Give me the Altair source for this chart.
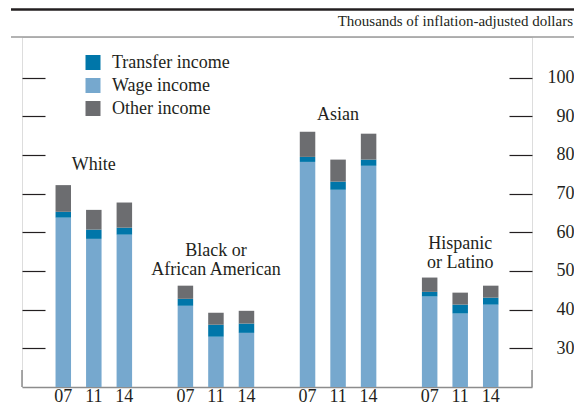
import altair as alt
import pandas as pd

# ---- data ----
groups = ["White", "Black or African American", "Asian", "Hispanic or Latino"]
group_text = ["White", "Black or\nAfrican American", "Asian", "Hispanic\nor Latino"]
label_level = [77.5, 55.2, 90.4, 57.1]   # level of the first line of each group label
years = ["07", "11", "14"]
wage = [63.8, 58.3, 59.4, 41.0, 33.0, 34.0, 78.2, 71.0, 77.2, 43.4, 39.0, 41.3]
transfer = [1.5, 2.4, 1.8, 1.8, 3.1, 2.4, 1.3, 2.1, 1.6, 1.2, 2.3, 1.8]
other = [6.9, 5.1, 6.5, 3.4, 3.1, 3.3, 6.5, 5.7, 6.7, 3.7, 3.1, 3.1]
y_ticks = [30, 40, 50, 60, 70, 80, 90, 100]
series = ["Transfer income", "Wage income", "Other income"]
colors = ["#0076A9", "#76A8CE", "#6C6D70"]
stack_rank = {"Wage income": 0, "Transfer income": 1, "Other income": 2}
unit_title = "Thousands of inflation-adjusted dollars"

TXT = "#231F20"
FONT = "Liberation Serif"

rows = []
for gi, g in enumerate(groups):
    for yi, yr in enumerate(years):
        k = gi * 3 + yi
        for s, v in (("Wage income", wage[k]), ("Transfer income", transfer[k]), ("Other income", other[k])):
            rows.append({"group": g, "year": yr, "series": s, "value": v, "rank": stack_rank[s]})
df = pd.DataFrame(rows)
df_years = df[df["series"] == "Wage income"][["group", "year"]]
df_labels = pd.DataFrame({"group": groups, "text": group_text, "level": label_level})

W, H = 510, 350
yscale = alt.Scale(domain=[20, 110.5], nice=False, zero=False)
xenc = alt.X("group:N", sort=groups,
             scale=alt.Scale(paddingInner=0.25, paddingOuter=0.213),
             axis=alt.Axis(labels=False, ticks=False, title=None, grid=False,
                           domainColor="#8c8c8c", domainWidth=1.5))
xoff = alt.XOffset("year:N", sort=years, scale=alt.Scale(paddingInner=0, paddingOuter=0))

bars = alt.Chart(df).mark_bar(width=15.5, clip=True).encode(
    x=xenc,
    xOffset=xoff,
    y=alt.Y("value:Q", stack="zero", scale=yscale,
            axis=alt.Axis(orient="left", offset=-23, tickSize=23, values=y_ticks,
                          labels=False, domain=False, grid=False, title=None,
                          tickColor=TXT, tickWidth=1.2)),
    color=alt.Color("series:N", scale=alt.Scale(domain=series, range=colors),
                    legend=alt.Legend(orient="none", legendX=62, legendY=16.5, title=None,
                                      symbolType="square", symbolSize=225,
                                      symbolStrokeWidth=0, symbolOpacity=1,
                                      labelFontSize=18, labelFont=FONT, labelColor=TXT,
                                      labelOffset=10, rowPadding=5, padding=0)),
    order=alt.Order("rank:Q"),
)

year_labels = alt.Chart(df_years).mark_text(
    baseline="middle", dy=10, fontSize=18, font=FONT, color=TXT
).encode(x=xenc, xOffset=xoff, y=alt.value(H), text="year:N")

group_labels = alt.Chart(df_labels).mark_text(
    baseline="middle", lineBreak="\n", fontSize=18, font=FONT, color=TXT, lineHeight=19.5
).encode(
    x=xenc,
    y=alt.Y("level:Q", scale=yscale,
            axis=alt.Axis(orient="right", offset=-23, tickSize=23, values=y_ticks,
                          domain=False, grid=False, title=None, labelAlign="right",
                          labelPadding=42, labelFont=FONT, labelFontSize=18,
                          labelColor=TXT, labelBaseline="middle",
                          tickColor=TXT, tickWidth=1.2)),
    text="text:N",
)

one = pd.DataFrame({"t": [unit_title]})
title_txt = alt.Chart(one).mark_text(align="right", baseline="middle", fontSize=15,
                                     font=FONT, color=TXT).encode(
    x=alt.value(551), y=alt.value(-16), text="t:N")
top_thick = alt.Chart(one).mark_rule(color="#231F20", strokeWidth=2.5).encode(
    x=alt.value(-11), x2=alt.value(552), y=alt.value(-27.6))
top_gray = alt.Chart(one).mark_rule(color="#9a9a9a", strokeWidth=1.5).encode(
    x=alt.value(-11), x2=alt.value(552), y=alt.value(0))
stub_l = alt.Chart(one).mark_rule(color="#8c8c8c", strokeWidth=1.5).encode(
    x=alt.value(0), y=alt.value(H - 17), y2=alt.value(H))
stub_r = alt.Chart(one).mark_rule(color="#8c8c8c", strokeWidth=1.5).encode(
    x=alt.value(W), y=alt.value(H - 17), y2=alt.value(H))

chart = alt.layer(
    bars, year_labels, group_labels, title_txt, top_thick, top_gray, stub_l, stub_r
).resolve_axis(y="independent").properties(
    width=W, height=H,
    autosize=alt.AutoSizeParams(type="none"),
    padding={"left": 14, "top": 29, "right": 42, "bottom": 20},
).configure_view(stroke=None).configure(font=FONT)

chart.save("out.html", embed_options={"renderer": "svg", "actions": False})
